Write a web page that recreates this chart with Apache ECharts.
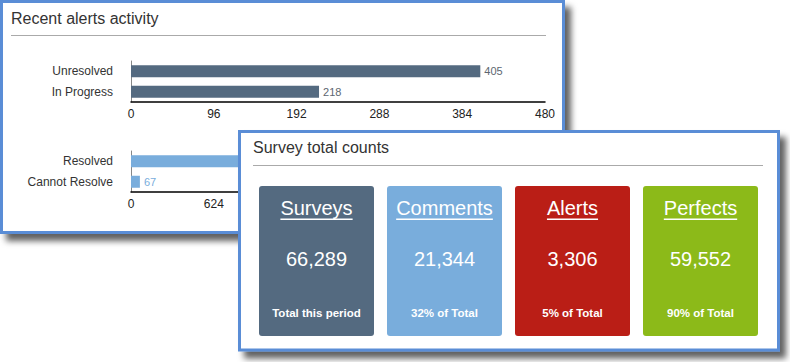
<!DOCTYPE html>
<html><head><meta charset="utf-8">
<script src="https://cdn.jsdelivr.net/npm/echarts@6/dist/echarts.min.js"></script>
<style>html,body{margin:0;padding:0;background:#fff;}#c{width:790px;height:362px;}</style>
</head><body><div id="c"></div>
<script>
// ---- data ----
const alertCategoriesTop = ['Unresolved', 'In Progress'];
const alertValuesTop = [405, 218];
const alertTicksTop = [0, 96, 192, 288, 384, 480];
const alertCategoriesBottom = ['Resolved', 'Cannot Resolve'];
const alertValuesBottom = [2616, 67];
const alertTicksBottom = [0, 624, 1248, 1872, 2496, 3120];
const cardTitles = ['Surveys', 'Comments', 'Alerts', 'Perfects'];
const cardValues = [66289, 21344, 3306, 59552];
const cardFooters = ['Total this period', '32% of Total', '5% of Total', '90% of Total'];
const panelTitles = ['Recent alerts activity', 'Survey total counts'];

// ---- styles ----
const FONT = '"Liberation Sans", Arial, Helvetica, sans-serif';
const BLUE = '#5a8dd6';
const DARK = '#546a80', LIGHT = '#79addc', RED = '#ba1e16', GREEN = '#8cba19';
const cardColors = [DARK, LIGHT, RED, GREEN];

// layout
const GRID_LEFT = 131, GRID_W = 414;
const PANEL2_LEFT = 238;

const chart = echarts.init(document.getElementById('c'), null, {renderer: 'svg', width: 790, height: 362});

const ctx = document.createElement('canvas').getContext('2d');
function textWidth(t, size, weight) { ctx.font = (weight || 'normal') + ' ' + size + 'px ' + FONT; return ctx.measureText(t).width; }

function txt(x, y, text, size, color, z, opts) {
  opts = opts || {};
  return {type: 'text', x: x, y: y, z: z, silent: true,
    style: {text: text, fill: color, fontSize: size, fontFamily: FONT, fontWeight: opts.weight || 'normal',
      align: opts.align || 'left', verticalAlign: 'middle', textAlign: opts.align || 'left', textVerticalAlign: 'middle'}};
}

const shadow = {shadowBlur: 6, shadowOffsetX: 6, shadowOffsetY: 7, shadowColor: 'rgba(0,0,0,0.62)'};
const graphics = [];
// panel 1
graphics.push({type: 'rect', z: 1, silent: true, shape: {x: 1.5, y: 1.5, width: 562, height: 231},
  style: Object.assign({fill: '#fff', stroke: BLUE, lineWidth: 3}, shadow)});
graphics.push(txt(11, 18, panelTitles[0], 16, '#333', 2));
graphics.push({type: 'line', z: 2, silent: true, shape: {x1: 11, y1: 35.5, x2: 546, y2: 35.5}, style: {stroke: '#aaa', lineWidth: 1}});
// panel 2
graphics.push({type: 'rect', z: 20, silent: true, shape: {x: PANEL2_LEFT + 1.5, y: 131.5, width: 539, height: 218.5},
  style: Object.assign({fill: '#fff', stroke: BLUE, lineWidth: 3}, shadow)});
graphics.push(txt(253, 147, panelTitles[1], 16, '#333', 21));
graphics.push({type: 'line', z: 21, silent: true, shape: {x1: 253, y1: 165.5, x2: 763, y2: 165.5}, style: {stroke: '#aaa', lineWidth: 1}});
// cards
const cardX0 = 259, cardW = 115, cardStep = 128, cardY = 186, cardH = 150;
cardTitles.forEach(function (t, i) {
  const x = cardX0 + i * cardStep, cx = x + cardW / 2;
  graphics.push({type: 'rect', z: 22, silent: true, shape: {x: x, y: cardY, width: cardW, height: cardH, r: 3}, style: {fill: cardColors[i]}});
  graphics.push(txt(cx, 208, t, 20, '#fff', 23, {align: 'center'}));
  const w = textWidth(t, 20);
  graphics.push({type: 'rect', z: 23, silent: true, shape: {x: cx - w / 2, y: 218.5, width: w, height: 1.4}, style: {fill: '#fff'}});
  graphics.push(txt(cx, 259, cardValues[i].toLocaleString('en-US'), 20, '#fff', 23, {align: 'center'}));
  graphics.push(txt(cx, 313, cardFooters[i], 11.5, '#fff', 23, {align: 'center', weight: 'bold'}));
});

function valueAxis(gridIndex, ticks) {
  const max = ticks[ticks.length - 1];
  return {type: 'value', gridIndex: gridIndex, min: ticks[0], max: max, interval: ticks[1] - ticks[0], z: 5,
    splitLine: {show: false}, axisTick: {show: false},
    axisLine: {show: true, onZero: false, lineStyle: {color: '#000', width: 1.5}},
    axisLabel: {color: '#222', fontSize: 12, fontFamily: FONT, margin: 6,
      // labels that fall beneath the overlapping second panel are not visible in the picture
      formatter: function (v) { return (GRID_LEFT + v / max * GRID_W + 12 < PANEL2_LEFT || gridIndex === 0) ? String(v) : ''; }}};
}
function catAxis(gridIndex, cats) {
  return {type: 'category', gridIndex: gridIndex, data: cats, inverse: true, z: 5,
    axisTick: {show: false}, splitLine: {show: false},
    axisLine: {show: true, lineStyle: {color: '#888', width: 1}},
    axisLabel: {color: '#333', fontSize: 12, fontFamily: FONT, margin: 18}};
}
function barSeries(idx, vals, color, labelColor) {
  return {type: 'bar', xAxisIndex: idx, yAxisIndex: idx, data: vals, barWidth: 12, z: 6,
    itemStyle: {color: color}, animation: false,
    label: {show: true, position: 'right', distance: 4, color: labelColor, fontSize: 11, fontFamily: FONT}};
}

chart.setOption({
  animation: false,
  grid: [{left: GRID_LEFT, top: 61, width: GRID_W, height: 41}, {left: GRID_LEFT, top: 151, width: GRID_W, height: 41}],
  xAxis: [valueAxis(0, alertTicksTop), valueAxis(1, alertTicksBottom)],
  yAxis: [catAxis(0, alertCategoriesTop), catAxis(1, alertCategoriesBottom)],
  series: [barSeries(0, alertValuesTop, DARK, '#5c6670'), barSeries(1, alertValuesBottom, LIGHT, LIGHT)],
  graphic: {elements: graphics}
});
</script></body></html>
